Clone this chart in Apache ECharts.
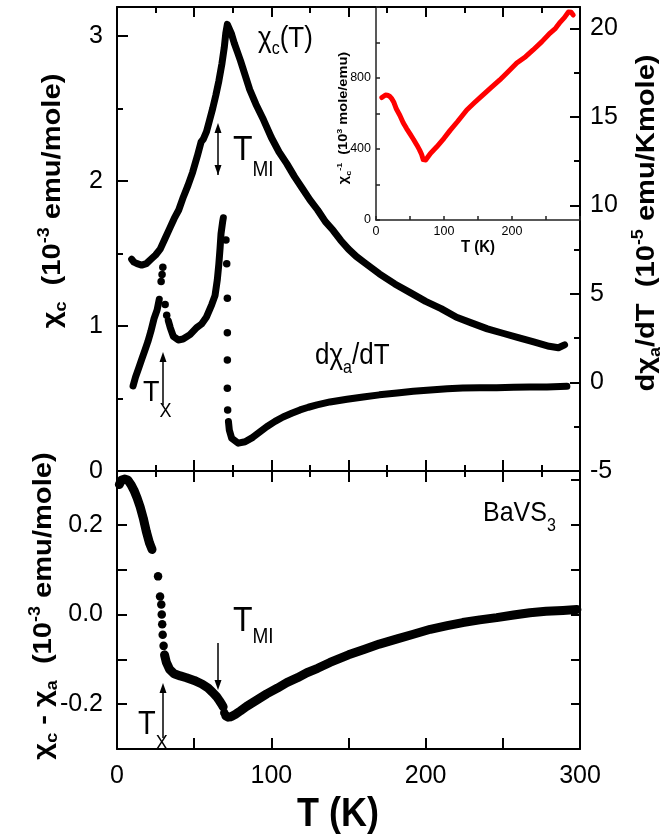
<!DOCTYPE html>
<html><head><meta charset="utf-8">
<script src="https://cdn.jsdelivr.net/npm/echarts@6/dist/echarts.min.js"></script>
<style>html,body{margin:0;padding:0;background:#fff}#c{width:660px;height:840px}</style>
</head><body><div id="c"></div>
<script>
// ---------- data ----------
// chi_c(T), 10^-3 emu/mole (top panel, left axis)
const chiT = [9.5,11,13,16,19,22,25,28,31,34,37,40,43,46,49,52,54.5,56,58,60,62,64,66,68,69.5,70.5,71.5,72.5,74,76,78,80,83,86,90,95,100,105,110,115,120,125,130,135,140,145,150,155,160,165,170,180,190,200,210,220,230,240,250,260,270,280,286,290];
const chiV = [1.46,1.44,1.43,1.42,1.43,1.46,1.49,1.53,1.60,1.67,1.74,1.80,1.89,1.97,2.06,2.17,2.27,2.29,2.34,2.42,2.50,2.59,2.69,2.81,2.92,3.02,3.08,3.07,3.02,2.95,2.89,2.83,2.73,2.63,2.53,2.42,2.30,2.20,2.12,2.03,1.95,1.87,1.80,1.72,1.66,1.59,1.53,1.48,1.44,1.40,1.36,1.29,1.23,1.17,1.12,1.06,1.02,0.98,0.95,0.92,0.89,0.86,0.85,0.87];

// d chi_a / dT, 10^-5 emu/Kmole (top panel, right axis); null = break in the chain
const dxaT = [10.4,12,14,16,18,20,22,24,26,27.4,27.6,33.2,34.5,36.5,39.7,42.8,47.3,51.6,54.8,58,61.4,63.5,65,66,66.8,67.4,68.5,68.9,69,72.2,72.8,74.3,78.6,83,88,92.7,97,102.4,107.6,113.2,118.6,124,129.6,138,149,159.5,170,181.5,192,203,214,224,235,246,257,267.5,278.6,291.5];
const dxaV = [-0.2,0.3,0.8,1.3,1.8,2.3,2.9,3.6,4.1,4.7,null,3.5,3.1,2.6,2.4,2.45,2.7,3.1,3.3,3.7,4.4,4.9,5.8,6.7,7.6,8.4,9.1,9.3,null,-2.2,-2.7,-3.15,-3.43,-3.35,-3.1,-2.78,-2.5,-2.2,-1.95,-1.74,-1.55,-1.4,-1.27,-1.1,-0.95,-0.82,-0.7,-0.6,-0.5,-0.42,-0.36,-0.31,-0.3,-0.3,-0.27,-0.25,-0.25,-0.22];
// isolated points of the same curve
const dxaDotT = [28.6,29.2,29.7,31.2,32.2,70.6,71.1,71.5,71.5,71.5,71.5,71.7];
const dxaDotV = [5.7,6.1,6.5,4.4,3.8,8.05,6.7,4.76,2.8,1.27,-0.33,-1.55];

// chi_c - chi_a, 10^-3 emu/mole (bottom panel)
const difT = [1.5,3,5,7,9,11,13,15,17,19,21,22.7,22.8,30.8,32,34,37,41,45,50,55,59,62,64.5,66.5,68,68.8,68.9,70.5,72,74,77,80,84,90,97,104,110,117,123,130,138,150,160,170,181,192,203,214,224,235,246,257,267.5,278,289,298];
const difV = [0.29,0.30,0.302,0.30,0.29,0.277,0.26,0.24,0.215,0.185,0.16,0.145,null,-0.09,-0.107,-0.122,-0.132,-0.137,-0.141,-0.147,-0.155,-0.164,-0.174,-0.183,-0.193,-0.201,-0.206,null,-0.226,-0.229,-0.228,-0.222,-0.215,-0.205,-0.192,-0.177,-0.164,-0.152,-0.141,-0.13,-0.12,-0.107,-0.09,-0.078,-0.066,-0.055,-0.044,-0.033,-0.025,-0.018,-0.012,-0.007,-0.001,0.004,0.007,0.009,0.011];
const difDotT = [26.6,27.9,28.7,29.0,29.3,29.6,30.2,69.5];
const difDotV = [0.085,0.04,0.022,0.0,-0.022,-0.045,-0.07,-0.219];

// inset: chi_c^-1, 10^3 mole/emu
const invT = [8.6,11,14,17,20,23,26,30,35,40,45,50,55,60,64,67,69.5,71,73,75,80,89,100,109,120,133.5,145,157,170,182,195,207,220,231,244,256,264,271,277,283,287,290];
const invV = [690,698,704,703,697,685,665,625,590,548,515,485,455,423,395,370,340,333,338,349,375,411,460,505,555,620,662,704,748,789,838,884,920,958,1005,1053,1080,1115,1140,1172,1170,1155];

// tick labels
const xLabels = [0,100,200,300];
const leftLabels = [0,1,2,3];
const rightLabels = [-5,0,5,10,15,20];
const botLabels = [-0.2,0.0,0.2];
const insetXLabels = [0,100,200];
const insetYLabels = [0,400,800];

// ---------- chart ----------
const F = '"Liberation Sans", Arial, Helvetica, sans-serif';
const K = '#000';
const chart = echarts.init(document.getElementById('c'), null, {renderer:'canvas', width:660, height:840});

const pairs = (t, v) => t.map((x, i) => [x, v[i] === null ? '-' : v[i]]);
const inList = (list, v) => list.some(a => Math.abs(a - v) < 1e-6);
const fmt = (list, dec) => v => inList(list, v) ? (dec ? v.toFixed(dec) : String(Math.round(v))) : '';

function xa(grid, pos, interval, len, o) {
  return Object.assign({
    type:'value', gridIndex:grid, position:pos, min:0, max:300, interval:interval,
    axisLine:{show:true, onZero:false, lineStyle:{color:K, width:2}},
    axisTick:{show:true, inside:true, length:len, lineStyle:{color:K, width:2}},
    axisLabel:{show:false}, splitLine:{show:false}
  }, o || {});
}
function ya(grid, pos, min, max, interval, len, o) {
  return Object.assign({
    type:'value', gridIndex:grid, position:pos, min:min, max:max, interval:interval,
    axisLine:{show:true, onZero:false, lineStyle:{color:K, width:2}},
    axisTick:{show:true, inside:true, length:len, lineStyle:{color:K, width:2}},
    axisLabel:{show:false}, splitLine:{show:false}
  }, o || {});
}
const noLine = {show:false, onZero:false};
const lab = (list, dec, margin, size) => ({show:true, formatter:fmt(list, dec), color:K, fontFamily:F, fontSize:size || 25, margin:margin});

// rich text built from pieces [text, size, baselineShift, noAdvance]
const mctx = document.createElement('canvas').getContext('2d');
function rtext(x, y, pieces, o) {
  o = o || {};
  const wt = o.bold ? 'bold ' : '';
  let cx = 0; const kids = [];
  pieces.forEach(p => {
    const font = wt + p[1] + 'px ' + F;
    mctx.font = font;
    const w = mctx.measureText(p[0]).width;
    kids.push({type:'text', x:cx, y:(p[2] || 0) - 0.32 * p[1],
      style:{text:p[0], font:font, fill:o.color || K, align:'left', verticalAlign:'middle'}});
    if (!p[3]) cx += w;
  });
  if (o.center) kids.forEach(k => { k.x -= cx / 2; });
  return {type:'group', x:x, y:y, rotation:o.rot || 0, scaleX:o.sx || 1, scaleY:o.sy || 1, silent:true, children:kids};
}
function arrow(x, yTail, yTip, both) {
  const d = yTip > yTail ? 1 : -1, L = 10, W = 3.5;
  const kids = [
    {type:'line', shape:{x1:x, y1:yTail, x2:x, y2:yTip - d * 4}, style:{stroke:K, lineWidth:1.5}},
    {type:'polygon', shape:{points:[[x, yTip], [x - W, yTip - d * L], [x + W, yTip - d * L]]}, style:{fill:K}}
  ];
  if (both) kids.push({type:'polygon', shape:{points:[[x, yTail], [x - W, yTail + d * L], [x + W, yTail + d * L]]}, style:{fill:K}});
  return {type:'group', silent:true, children:kids};
}

const SY = 1.12;
const option = {
  animation:false,
  backgroundColor:'#fff',
  grid:[
    {left:117, top:7, width:463, height:464, outerBoundsMode:'none'},
    {left:117, top:471, width:463, height:278, outerBoundsMode:'none'},
    {left:376, top:7, width:204, height:213, outerBoundsMode:'none'}
  ],
  xAxis:[
    xa(0, 'bottom', 50, 11),
    xa(0, 'bottom', 25, 6, {axisLine:noLine}),
    xa(0, 'top', 50, 10),
    xa(0, 'top', 25, 6, {axisLine:noLine}),
    xa(1, 'bottom', 50, 11, {axisLabel:lab(xLabels, 0, 15)}),
    xa(1, 'top', 50, 11),
    xa(1, 'top', 25, 6, {axisLine:noLine}),
    xa(2, 'bottom', 50, 4, {axisLine:{show:true, onZero:false, lineStyle:{color:'#222', width:1.5}},
      axisTick:{show:true, inside:true, length:4, lineStyle:{color:'#222', width:1.5}},
      axisLabel:lab(insetXLabels, 0, 5, 12.5)})
  ],
  yAxis:[
    ya(0, 'left', 0, 3.2, 1, 11, {axisLabel:lab(leftLabels, 0, 14)}),
    ya(0, 'left', 0, 3.2, 0.5, 6, {axisLine:noLine}),
    ya(0, 'right', -5, 21.2, 5, 10, {axisLabel:lab(rightLabels, 0, 10)}),
    ya(0, 'right', -5, 21.2, 2.5, 6, {axisLine:noLine}),
    ya(1, 'left', -0.3, 0.32, 0.1, 10, {axisLabel:lab(botLabels, 1, 14)}),
    ya(1, 'right', -0.3, 0.32, 0.1, 9),
    ya(2, 'left', 0, 1200, 200, 4, {axisLine:{show:true, onZero:false, lineStyle:{color:'#222', width:1.5}},
      axisTick:{show:true, inside:true, length:4, lineStyle:{color:'#222', width:1.5}},
      axisLabel:lab(insetYLabels, 0, 5, 12.5)})
  ],
  series:[
    {type:'line', xAxisIndex:0, yAxisIndex:0, data:pairs(chiT, chiV), showSymbol:false, connectNulls:false,
      lineStyle:{color:K, width:7, cap:'round', join:'round'}},
    {type:'line', xAxisIndex:0, yAxisIndex:2, data:pairs(dxaT, dxaV), showSymbol:false, connectNulls:false,
      lineStyle:{color:K, width:7, cap:'round', join:'round'}},
    {type:'scatter', xAxisIndex:0, yAxisIndex:2, data:pairs(dxaDotT, dxaDotV), symbol:'circle', symbolSize:7.5,
      itemStyle:{color:K, opacity:1}},
    {type:'line', xAxisIndex:4, yAxisIndex:4, data:pairs(difT, difV), showSymbol:false, connectNulls:false,
      lineStyle:{color:K, width:9, cap:'round', join:'round'}},
    {type:'scatter', xAxisIndex:4, yAxisIndex:4, data:pairs(difDotT, difDotV), symbol:'circle', symbolSize:8.5,
      itemStyle:{color:K, opacity:1}},
    {type:'line', xAxisIndex:7, yAxisIndex:6, data:pairs(invT, invV), showSymbol:false,
      lineStyle:{color:'#f00', width:5, cap:'round', join:'round'}}
  ],
  graphic:[
    // axis titles
    rtext(61, 201, [['χ',26,0],['c',16,6],['  (10',26,0],['-3',16,-11],[' emu/mole)',26,0]], {bold:true, rot:Math.PI/2, center:true, sx:SY}),
    rtext(655, 223, [['dχ',26,0],['a',16,6],['/dT  (10',26,0],['-5',16,-11],[' emu/Kmole)',26,0]], {bold:true, rot:Math.PI/2, center:true, sx:SY}),
    rtext(52, 606, [['χ',26,0],['c',16,6],[' - ',26,0],['χ',26,0],['a',16,6],['  (10',26,0],['-3',16,-11],[' emu/mole)',26,0]], {bold:true, rot:Math.PI/2, center:true, sx:SY}),
    rtext(338, 828, [['T (K)',36,0]], {bold:true, center:true, sy:SY}),
    // inset titles
    rtext(348, 118, [['χ',13,0],['c',8,3],['-1',8,-6,false],['  (10',13,0],['3',8,-6],[' mole/emu)',13,0]], {bold:true, rot:Math.PI/2, center:true, sx:SY}),
    rtext(478, 253, [['T (K)',15,0]], {bold:true, center:true, sy:SY}),
    // annotations
    rtext(258, 48, [['χ',26,0],['c',16,6],['(T)',26,0]], {sy:SY}),
    rtext(315, 365, [['dχ',26,0],['a',16,8],['/dT',26,0]], {sy:SY}),
    rtext(233, 162, [['T',32,0],['MI',19,13]], {sy:SY}),
    rtext(143, 402, [['T',27,0],['X',18,14]], {sy:SY}),
    rtext(233, 633, [['T',32,0],['MI',19,10]], {sy:SY}),
    rtext(138, 735, [['T',29,0],['X',18,13]], {sy:SY}),
    rtext(483, 522, [['BaVS',25,0],['3',16,9]], {sy:SY}),
    arrow(218, 175, 123, true),
    arrow(163, 405, 352, false),
    arrow(218, 643, 690, false),
    arrow(163, 738, 683, false)
  ]
};
chart.setOption(option);
</script>
</body></html>
